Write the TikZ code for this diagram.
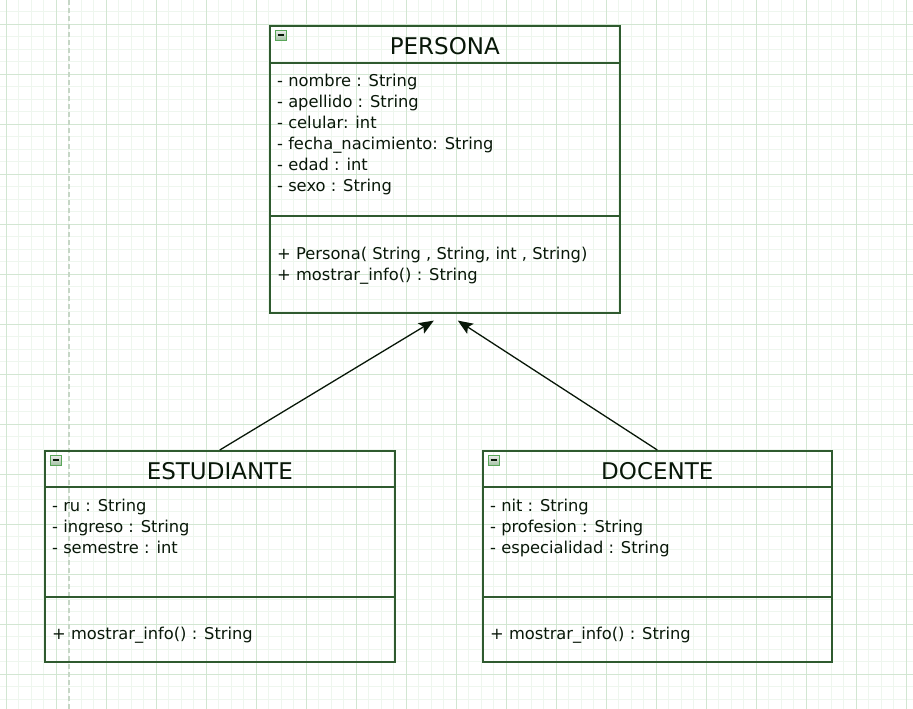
\documentclass[tikz,border=0pt]{standalone}
\usepackage{fontspec}
\setmainfont{DejaVu Sans}
\usetikzlibrary{positioning,arrows.meta}
\definecolor{gmin}{HTML}{EEF6EE}
\definecolor{gmaj}{HTML}{D2E6D2}
\definecolor{brd}{HTML}{2F5A2F}
\definecolor{ink}{HTML}{081708}
\definecolor{pgbrk}{HTML}{C6D6C6}
\tikzset{
  >={Stealth[length=15pt,width=12pt,inset=3pt]},
  cls/.style={draw=brd, line width=1.6pt, anchor=north west, inner sep=0pt},
  ttl/.style={text=ink, font=\fontsize{23}{26}\selectfont, inner sep=0pt},
  mem/.style={text=ink, font=\fontsize{16.3}{21}\selectfont, align=left, anchor=north west, inner sep=0pt},
  sep/.style={draw=brd, line width=1.6pt},
  gen/.style={->, draw=ink, line width=1.3pt},
  ico/.style={draw=gray!70!green, top color=gray!15, bottom color=green!20!gray!60,
              minimum width=11pt, minimum height=10pt, inner sep=0pt, anchor=north west,
              path picture={\draw[ink, line width=1.5pt]
                ([xshift=2.5pt]path picture bounding box.west) -- ([xshift=-2.5pt]path picture bounding box.east);}},
}
\begin{document}
\begin{tikzpicture}[x=1pt,y=-1pt]
  \useasboundingbox (0,0) rectangle (913,709);
  % grid
  \foreach \gx in {6,18.5,...,913} \draw[gmin] (\gx,0) -- (\gx,709);
  \foreach \gy in {-1,11.5,...,709} \draw[gmin] (0,\gy) -- (913,\gy);
  \foreach \gx in {6,56,...,906} \draw[gmaj] (\gx,0) -- (\gx,709);
  \foreach \gy in {24,74,...,674} \draw[gmaj] (0,\gy) -- (913,\gy);
  \draw[pgbrk, line width=1.5pt, dash pattern=on 5pt off 3pt] (69,0) -- (69,709);

  % classes
  \node[cls, minimum width=350pt, minimum height=287pt] (per) at (269,25) {};
  \node[cls, minimum width=350pt, minimum height=211pt] (est) at (44,450) {};
  \node[cls, minimum width=349pt, minimum height=211pt] (doc) at (482,450) {};

  \node[ico] (perI) at ([shift={(6pt,-5pt)}]per.north west) {};
  \node[ico] (estI) at ([shift={(6pt,-5pt)}]est.north west) {};
  \node[ico] (docI) at ([shift={(6pt,-5pt)}]doc.north west) {};

  \node[ttl] (perT) at ([yshift=-21pt]per.north) {PERSONA};
  \node[ttl] (estT) at ([yshift=-21pt]est.north) {ESTUDIANTE};
  \node[ttl] (docT) at ([yshift=-21pt]doc.north) {DOCENTE};

  \draw[sep] ([yshift=-38pt]per.north west) -- ([yshift=-38pt]per.north east);
  \draw[sep] ([yshift=-191pt]per.north west) -- ([yshift=-191pt]per.north east);
  \draw[sep] ([yshift=-37pt]est.north west) -- ([yshift=-37pt]est.north east);
  \draw[sep] ([yshift=-147pt]est.north west) -- ([yshift=-147pt]est.north east);
  \draw[sep] ([yshift=-37pt]doc.north west) -- ([yshift=-37pt]doc.north east);
  \draw[sep] ([yshift=-147pt]doc.north west) -- ([yshift=-147pt]doc.north east);

  \node[mem] (perA) at ([shift={(8pt,-49pt)}]per.north west)
    {- nombre : String\\- apellido : String\\- celular: int\\- fecha\_nacimiento: String\\- edad : int\\- sexo : String};
  \node[mem] (perM) at ([shift={(8pt,-222pt)}]per.north west)
    {+ Persona( String , String, int , String)\\+ mostrar\_info() : String};
  \node[mem] (estA) at ([shift={(8pt,-49pt)}]est.north west)
    {- ru : String\\- ingreso : String\\- semestre : int};
  \node[mem] (estM) at ([shift={(8pt,-177pt)}]est.north west)
    {+ mostrar\_info() : String};
  \node[mem] (docA) at ([shift={(8pt,-49pt)}]doc.north west)
    {- nit : String\\- profesion : String\\- especialidad : String};
  \node[mem] (docM) at ([shift={(8pt,-177pt)}]doc.north west)
    {+ mostrar\_info() : String};

  % inheritance
  \coordinate (hL) at ([shift={(-11pt,-7pt)}]per.south);
  \coordinate (hR) at ([shift={(13pt,-7pt)}]per.south);
  \draw[gen] (est.north) -- (hL);
  \draw[gen] (doc.north) -- (hR);
\end{tikzpicture}
\end{document}
